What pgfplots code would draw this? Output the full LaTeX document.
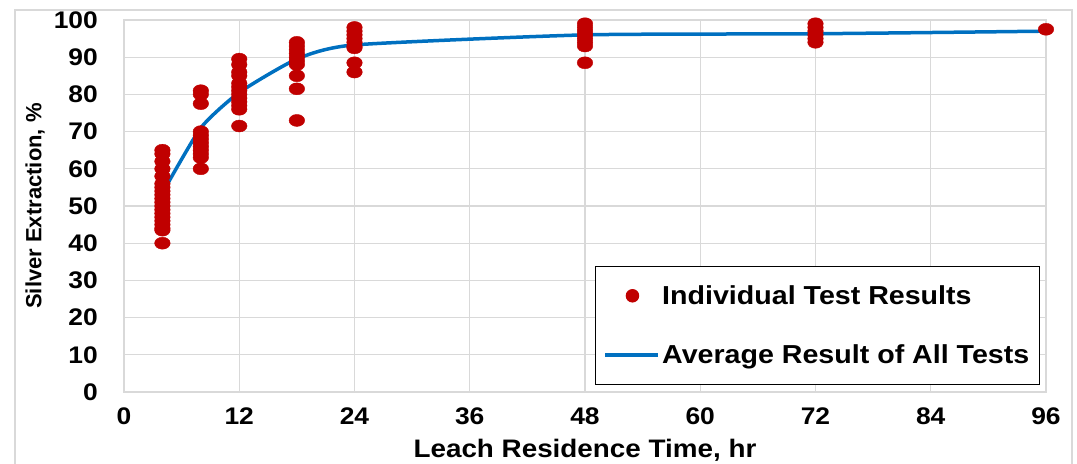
\documentclass[border=0pt]{standalone}
\usepackage{fontspec}
\setmainfont{Liberation Sans}[FakeStretch=1.1]
\newfontfamily\ylfont{Liberation Sans}
\usepackage{pgfplots}
\pgfplotsset{compat=1.18}
\definecolor{ptred}{HTML}{C00000}
\definecolor{lineblue}{HTML}{0070C0}
\definecolor{gridgray}{HTML}{D9D9D9}
\begin{document}
\begin{tikzpicture}
\useasboundingbox (-124bp,-72bp) rectangle (953bp,392bp);
\draw[gridgray, line width=1.2bp] (-109bp,-80bp) -- (-109bp,382bp) -- (948bp,382bp) -- (948bp,-80bp);
\begin{axis}[
  scale only axis, width=922bp, height=372bp,
  xmin=0, xmax=96, ymin=0, ymax=100,
  xtick={0,12,...,96}, ytick={0,10,...,100},
  grid=major, major grid style={gridgray, line width=1.2bp},
  axis line style={gridgray, line width=1.2bp},
  major tick length=0pt,
  /pgf/number format/assume math mode=true,
  tick label style={font=\fontsize{24bp}{28bp}\selectfont\bfseries},
  yticklabel style={anchor=east, inner sep=0pt, xshift=-26bp},
  xticklabel style={anchor=north, inner sep=0pt, yshift=-16bp},
  xlabel={Leach Residence Time, hr},
  ylabel={Silver Extraction, \%},
  xlabel style={font=\fontsize{25.3bp}{29bp}\selectfont\bfseries, at={(axis description cs:0.5,0)}, anchor=base, yshift=-65bp, inner sep=0pt},
  ylabel style={font=\ylfont\fontsize{22bp}{26bp}\selectfont\bfseries, at={(axis description cs:-0.0965,0.5)}, anchor=center, inner sep=0pt},
  reverse legend,
  legend cell align=left,
  legend style={at={(axis description cs:0.5108,0.0188)}, anchor=south west,
    draw=black, line width=1.5bp, fill=white,
    font=\fontsize{26bp}{30bp}\selectfont\bfseries,
    inner xsep=8bp, inner ysep=17bp, row sep=35bp,
    /tikz/every odd column/.style={column sep=0bp}},
]
\addplot[lineblue, line width=3.5bp, smooth, tension=0.35, no markers,
  legend image code/.code={\draw[lineblue, line width=3.5bp] (0bp,0bp) -- (53bp,0bp);}]
  coordinates {(4,53.5) (8,71) (12,80.5) (18,89.5) (24,93.3) (48,96) (72,96.3) (96,97)};
\addlegendentry{Average Result of All Tests}
\addplot[only marks, mark=*, mark size=6bp, color=ptred, mark options={xscale=1.3, draw=ptred, fill=ptred},
  legend image code/.code={\fill[ptred] (27bp,0bp) circle (6bp);}]
  coordinates {
  (4,65) (4,64) (4,62) (4,60) (4,58) (4,56) (4,55) (4,54) (4,53) (4,52) (4,51) (4,50) (4,49) (4,48) (4,47) (4,46) (4,45) (4,44) (4,43.5) (4,40)
  (8,81) (8,80) (8,77.5) (8,70) (8,69) (8,68) (8,67) (8,66) (8,65) (8,64) (8,63) (8,60)
  (12,89.5) (12,88) (12,86) (12,85) (12,83) (12,82) (12,81) (12,80) (12,79) (12,78) (12,77) (12,76) (12,71.5)
  (18,94) (18,93) (18,92) (18,91) (18,90) (18,89) (18,88) (18,85) (18,81.5) (18,73)
  (24,98) (24,97) (24,96) (24,95) (24,94) (24,93) (24,92.5) (24,88.5) (24,86)
  (48,99) (48,98) (48,97) (48,96) (48,95) (48,94) (48,93) (48,88.5)
  (72,99) (72,98) (72,97) (72,96) (72,95) (72,94)
  (96,97.5)
  };
\addlegendentry{Individual Test Results}
\end{axis}
\end{tikzpicture}
\end{document}
